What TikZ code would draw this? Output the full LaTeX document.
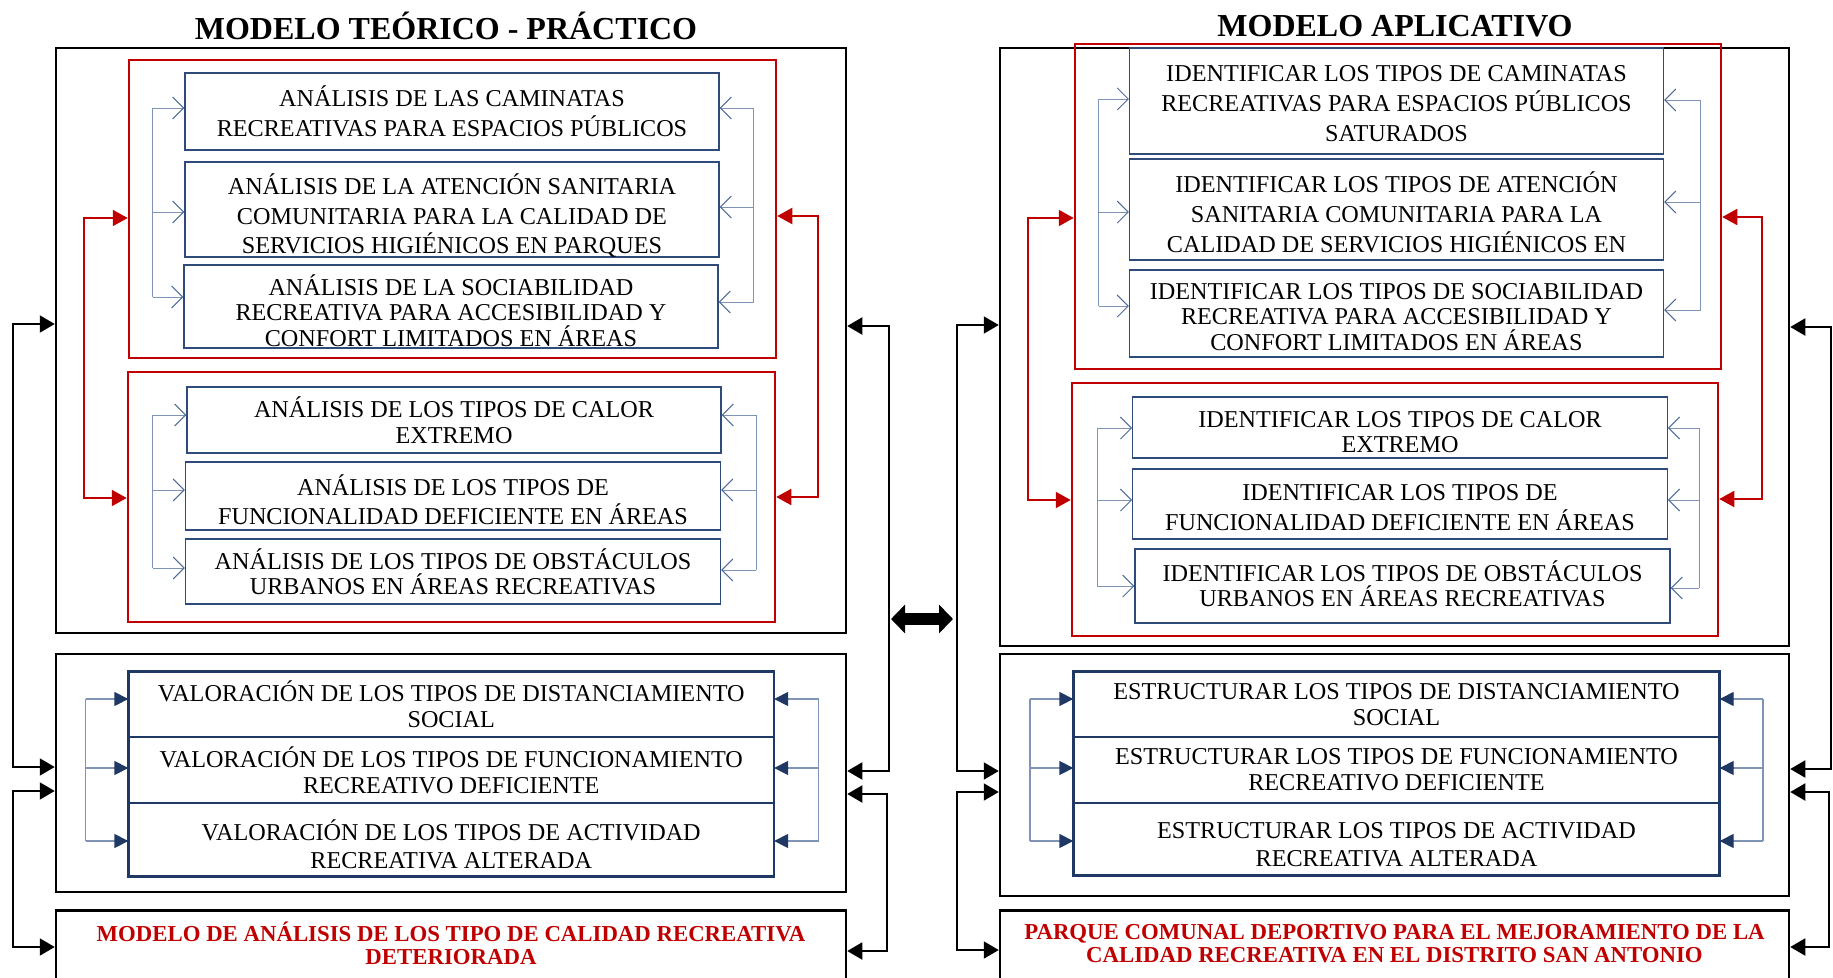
\documentclass[tikz,border=0pt]{standalone}
\usepackage{fontspec}
\setmainfont{Liberation Serif}
\usetikzlibrary{arrows.meta}
\definecolor{dred}{HTML}{C00000}
\definecolor{navy}{HTML}{1F3864}
\definecolor{bbord}{HTML}{2F4B7C}
\definecolor{fbline}{HTML}{7F93B5}
\definecolor{fbhead}{HTML}{4E6A9A}
\newcommand{\bs}[1]{\fontsize{24.2}{#1}\selectfont}
\begin{document}
\begin{tikzpicture}[x=1pt,y=-1pt,
 outer/.style={draw=black, line width=2.5pt, inner sep=0pt, minimum width=790pt},
 redbox/.style={draw=dred, line width=2.5pt, inner sep=0pt},
 bx/.style={draw=bbord, line width=1.2pt, inner sep=0pt},
 txt/.style={inner sep=0pt, align=center, font=\bs{26}},
 vb/.style={draw=navy, line width=1.3pt, inner sep=0pt},
 ttl/.style={inner sep=0pt, font=\bfseries\fontsize{32}{36}\selectfont},
 redtxt/.style={inner sep=0pt, text=dred, align=center, font=\bfseries\fontsize{22.8}{23.5}\selectfont},
 fb/.style={draw=fbline, line width=1pt},
 fbo/.style={fb, -{Straight Barb[length=11pt,width=22pt,line width=1pt,color=fbhead]}},
 fbf/.style={fb, line width=1.3pt, -{Triangle[length=14pt,width=14pt,color=navy]}},
 redc/.style={draw=dred, line width=2pt, {Triangle[length=15pt,width=16pt]}-{Triangle[length=15pt,width=16pt]}},
 blk/.style={draw=black, line width=2pt, {Triangle[length=15pt,width=17pt]}-{Triangle[length=15pt,width=17pt]}}
]
\useasboundingbox (0,0) rectangle (1833,977);

% titles
\node[ttl] (T1) at (446,26) {MODELO TEÓRICO - PRÁCTICO};
\node[ttl] (T2) at (1395,26) {MODELO APLICATIVO};

% ================= LEFT PANEL =================
\node[outer, minimum height=585pt] (OL1) at (451,340.5) {};
\node[redbox, minimum width=647pt, minimum height=298pt] (RL1) at (452.5,209) {};
\node[bx, minimum width=534pt, minimum height=77pt] (A1) at (452,111.5) {};
\node[txt, font=\bs{29.5}] (A1t) at (452,111.5) {ANÁLISIS DE LAS CAMINATAS\\RECREATIVAS PARA ESPACIOS PÚBLICOS};
\node[bx, minimum width=534pt, minimum height=95pt] (A2) at (452,209.5) {};
\node[txt, font=\bs{29.5}] (A2t) at (452,216) {ANÁLISIS DE LA ATENCIÓN SANITARIA\\COMUNITARIA PARA LA CALIDAD DE\\SERVICIOS HIGIÉNICOS EN PARQUES};
\node[bx, minimum width=534pt, minimum height=83pt] (A3) at (451,306.5) {};
\node[txt, font=\bs{25.7}] (A3t) at (451,310.5) {ANÁLISIS DE LA SOCIABILIDAD\\RECREATIVA PARA ACCESIBILIDAD Y\\CONFORT LIMITADOS EN ÁREAS};

\node[redbox, minimum width=647pt, minimum height=250pt] (RL2) at (451.5,497) {};
\node[bx, minimum width=534pt, minimum height=66pt] (B1) at (454,420) {};
\node[txt, font=\bs{26}] (B1t) at (454,420) {ANÁLISIS DE LOS TIPOS DE CALOR\\EXTREMO};
\node[bx, minimum width=535pt, minimum height=68pt] (B2) at (453,496) {};
\node[txt, font=\bs{29.5}] (B2t) at (453,499.5) {ANÁLISIS DE LOS TIPOS DE\\FUNCIONALIDAD DEFICIENTE EN ÁREAS};
\node[bx, minimum width=535pt, minimum height=65pt] (B3) at (453,571.5) {};
\node[txt, font=\bs{25}] (B3t) at (453,571.5) {ANÁLISIS DE LOS TIPOS DE OBSTÁCULOS\\URBANOS EN ÁREAS RECREATIVAS};

\node[outer, minimum height=238pt] (OL2) at (451,773) {};
\node[vb, minimum width=644.5pt, minimum height=65pt] (V1) at (451.25,704.5) {};
\node[txt] (V1t) at (451.25,704.5) {VALORACIÓN DE LOS TIPOS DE DISTANCIAMIENTO\\SOCIAL};
\node[vb, minimum width=644.5pt, minimum height=66pt] (V2) at (451.25,770) {};
\node[txt] (V2t) at (451.25,770) {VALORACIÓN DE LOS TIPOS DE FUNCIONAMIENTO\\RECREATIVO DEFICIENTE};
\node[vb, minimum width=644.5pt, minimum height=73pt] (V3) at (451.25,839.5) {};
\node[txt, font=\bs{28}] (V3t) at (451.25,844) {VALORACIÓN DE LOS TIPOS DE ACTIVIDAD\\RECREATIVA ALTERADA};
\draw[navy, line width=2pt] (V1.north west) rectangle (V3.south east);

\node[outer, minimum height=120pt, anchor=north] (OL3) at (451,909) {};
\node[redtxt] (OL3t) at (451,943.5) {MODELO DE ANÁLISIS DE LOS TIPO DE CALIDAD RECREATIVA\\DETERIORADA};

% ================= RIGHT PANEL =================
\node[outer, minimum width=789pt, minimum height=598pt] (OR1) at (1394.5,347) {};
\node[redbox, minimum width=646pt, minimum height=325pt] (RR1) at (1398,206.5) {};
\node[bx, minimum width=534pt, minimum height=106pt] (C1) at (1396.5,101) {};
\node[txt, font=\bs{30}] (C1t) at (1396.5,103.5) {IDENTIFICAR LOS TIPOS DE CAMINATAS\\RECREATIVAS PARA ESPACIOS PÚBLICOS\\SATURADOS};
\node[bx, minimum width=534pt, minimum height=101pt] (C2) at (1396.5,209.5) {};
\node[txt, font=\bs{30}] (C2t) at (1396.5,212) {IDENTIFICAR LOS TIPOS DE ATENCIÓN\\SANITARIA COMUNITARIA PARA LA\\CALIDAD DE SERVICIOS HIGIÉNICOS EN};
\node[bx, minimum width=534pt, minimum height=87pt] (C3) at (1396.5,313.5) {};
\node[txt, font=\bs{25.5}] (C3t) at (1396.5,317) {IDENTIFICAR LOS TIPOS DE SOCIABILIDAD\\RECREATIVA PARA ACCESIBILIDAD Y\\CONFORT LIMITADOS EN ÁREAS};

\node[redbox, minimum width=646pt, minimum height=253pt] (RR2) at (1395,509.5) {};
\node[bx, minimum width=534.5pt, minimum height=61pt] (D1) at (1400,427.5) {};
\node[txt, font=\bs{25}] (D1t) at (1400,432) {IDENTIFICAR LOS TIPOS DE CALOR\\EXTREMO};
\node[bx, minimum width=534.5pt, minimum height=70pt] (D2) at (1400,504) {};
\node[txt, font=\bs{30}] (D2t) at (1400,507.5) {IDENTIFICAR LOS TIPOS DE\\FUNCIONALIDAD DEFICIENTE EN ÁREAS};
\node[bx, minimum width=535pt, minimum height=74pt] (D3) at (1402.5,586) {};
\node[txt, font=\bs{25.5}] (D3t) at (1402.5,583.7) {IDENTIFICAR LOS TIPOS DE OBSTÁCULOS\\URBANOS EN ÁREAS RECREATIVAS};

\node[outer, minimum width=789pt, minimum height=242pt] (OR2) at (1394.5,775) {};
\node[vb, minimum width=645pt, minimum height=65pt] (E1) at (1396.5,704.5) {};
\node[txt] (E1t) at (1396.5,704.5) {ESTRUCTURAR LOS TIPOS DE DISTANCIAMIENTO\\SOCIAL};
\node[vb, minimum width=645pt, minimum height=66pt] (E2) at (1396.5,770) {};
\node[txt] (E2t) at (1396.5,770) {ESTRUCTURAR LOS TIPOS DE FUNCIONAMIENTO\\RECREATIVO DEFICIENTE};
\node[vb, minimum width=645pt, minimum height=72pt] (E3) at (1396.5,839) {};
\node[txt, font=\bs{28}] (E3t) at (1396.5,844.5) {ESTRUCTURAR LOS TIPOS DE ACTIVIDAD\\RECREATIVA ALTERADA};
\draw[navy, line width=2pt] (E1.north west) rectangle (E3.south east);

\node[outer, minimum width=789pt, minimum height=120pt, anchor=north] (OR3) at (1394.5,909) {};
\node[redtxt] (OR3t) at (1394.5,943.5) {PARQUE COMUNAL DEPORTIVO PARA EL MEJORAMIENTO DE LA\\CALIDAD RECREATIVA EN EL DISTRITO SAN ANTONIO};

% ================= FEEDBACK ARROWS (open) =================
\draw[fb] (152.6,108) -- (152.6,297);
\foreach \n/\y in {A1/108,A2/212,A3/297} \draw[fbo] (152.6,\y) -- (\n.west |- 0,\y);
\draw[fb] (753.5,108) -- (753.5,302);
\foreach \n/\y in {A1/108,A2/207,A3/302} \draw[fbo] (753.5,\y) -- (\n.east |- 0,\y);

\draw[fb] (152.6,415) -- (152.6,568);
\foreach \n/\y in {B1/415,B2/490,B3/568} \draw[fbo] (152.6,\y) -- (\n.west |- 0,\y);
\draw[fb] (756,415) -- (756,570);
\foreach \n/\y in {B1/415,B2/490,B3/570} \draw[fbo] (756,\y) -- (\n.east |- 0,\y);

\draw[fb] (1098.5,99) -- (1098.5,306);
\foreach \n/\y in {C1/99,C2/212,C3/306} \draw[fbo] (1098.5,\y) -- (\n.west |- 0,\y);
\draw[fb] (1700.5,100) -- (1700.5,310);
\foreach \n/\y in {C1/100,C2/202,C3/310} \draw[fbo] (1700.5,\y) -- (\n.east |- 0,\y);

\draw[fb] (1097,428) -- (1097,586);
\foreach \n/\y in {D1/428,D2/500,D3/586} \draw[fbo] (1097,\y) -- (\n.west |- 0,\y);
\draw[fb] (1699,428) -- (1699,588);
\foreach \n/\y in {D1/428,D2/500,D3/588} \draw[fbo] (1699,\y) -- (\n.east |- 0,\y);

% ================= FEEDBACK ARROWS (filled) =================
\draw[fb, line width=1.3pt] (85.7,699) -- (85.7,841);
\foreach \n/\y in {V1/699,V2/768,V3/841} \draw[fbf] (85.7,\y) -- (\n.west |- 0,\y);
\draw[fb, line width=1.3pt] (818.6,699) -- (818.6,841);
\foreach \n/\y in {V1/699,V2/768,V3/841} \draw[fbf] (818.6,\y) -- (\n.east |- 0,\y);

\draw[fb, line width=1.3pt] (1030,699) -- (1030,841);
\foreach \n/\y in {E1/699,E2/768,E3/841} \draw[fbf] (1030,\y) -- (\n.west |- 0,\y);
\draw[fb, line width=1.3pt] (1763,699) -- (1763,841);
\foreach \n/\y in {E1/699,E2/768,E3/841} \draw[fbf] (1763,\y) -- (\n.east |- 0,\y);

% ================= RED LOOPS =================
\draw[redc] (RL1.west |- 0,218) -- (84,218) -- (84,498) -- (RL2.west |- 0,498);
\draw[redc] (RL1.east |- 0,216) -- (817.5,216) -- (817.5,497) -- (RL2.east |- 0,497);
\draw[redc] (RR1.west |- 0,218) -- (1028,218) -- (1028,500) -- (RR2.west |- 0,500);
\draw[redc] (RR1.east |- 0,217) -- (1762,217) -- (1762,499) -- (RR2.east |- 0,499);

% ================= BLACK LOOPS =================
\draw[blk] (OL1.west |- 0,324) -- (13,324) -- (13,767) -- (OL2.west |- 0,767);
\draw[blk] (OL2.west |- 0,791) -- (13,791) -- (13,947) -- (OL3.west |- 0,947);
\draw[blk] (OL1.east |- 0,326) -- (889,326) -- (889,771) -- (OL2.east |- 0,771);
\draw[blk] (OL2.east |- 0,794) -- (887,794) -- (887,951) -- (OL3.east |- 0,951);
\draw[blk] (OR1.west |- 0,325) -- (957,325) -- (957,771) -- (OR2.west |- 0,771);
\draw[blk] (OR2.west |- 0,792) -- (957,792) -- (957,950) -- (OR3.west |- 0,950);
\draw[blk] (OR1.east |- 0,327) -- (1831,327) -- (1831,769) -- (OR2.east |- 0,769);
\draw[blk] (OR2.east |- 0,792) -- (1829,792) -- (1829,947) -- (OR3.east |- 0,947);

% ================= CENTRAL DOUBLE ARROW =================
\coordinate (dL) at (891,619);
\coordinate (dR) at (953,619);
\draw[line width=12pt, {Triangle[length=14pt,width=28pt]}-{Triangle[length=14pt,width=28pt]}] (dL) -- (dR);
\end{tikzpicture}
\end{document}
